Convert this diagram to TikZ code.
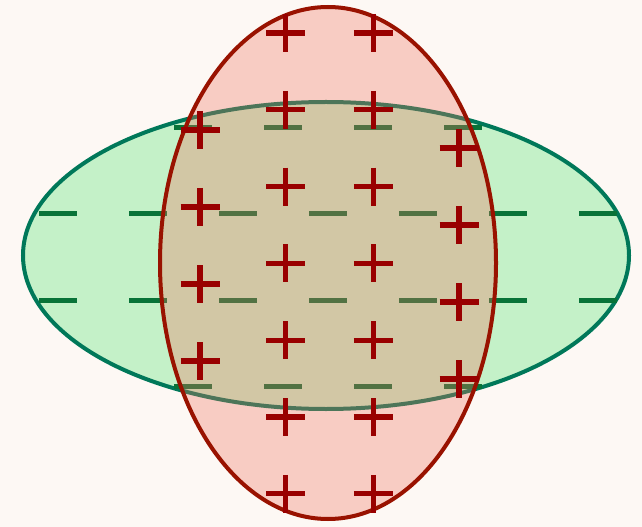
\documentclass[tikz,border=0pt]{standalone}
\usepackage{tikz}
\def\ovaledge{3}
\def\signedge{3.9}
\definecolor{paper}{rgb}{0.992,0.973,0.957}
\definecolor{greenfill}{rgb}{0.77,0.945,0.785}
\definecolor{greenline}{rgb}{0,0.47,0.35}
\definecolor{minusgreen}{rgb}{0.03,0.45,0.22}
\definecolor{redfill}{rgb}{0.94,0.44,0.36}
\definecolor{redline}{rgb}{0.6,0.07,0}
\definecolor{plusred}{rgb}{0.6,0,0}
\newcommand{\plusat}[2]{\draw [line width=\signedge, color=plusred] (#1-19.5,#2) -- (#1+19.5,#2) (#1,#2-19) -- (#1,#2+19);}
\newcommand{\minusat}[2]{\draw [line width=\signedge, color=minusgreen] (#1-19,#2) -- (#1+19,#2);}
\begin{document}
\begin{tikzpicture}[x = 0.75pt, y = -0.75pt]

            \fill [paper] (0,0) rectangle (642,527);
            \useasboundingbox (0,0) rectangle (642,527);

            \node (gc) at (326,255.5){};
            \node (rc) at (328,263){};

            % negative region
            \draw [line width=\ovaledge, color=greenline, fill=greenfill] (gc.center) ellipse [x radius=303, y radius=153.5];

            \minusat{193}{127.3} \minusat{283}{127.3} \minusat{373}{127.3} \minusat{463}{127.3}
            \minusat{58}{213.5} \minusat{148}{213.5} \minusat{238}{213.5} \minusat{328}{213.5}
            \minusat{418}{213.5} \minusat{508}{213.5} \minusat{598}{213.5}
            \minusat{58}{300.5} \minusat{148}{300.5} \minusat{238}{300.5} \minusat{328}{300.5}
            \minusat{418}{300.5} \minusat{508}{300.5} \minusat{598}{300.5}
            \minusat{193}{386.3} \minusat{283}{386.3} \minusat{373}{386.3} \minusat{463}{386.3}

            % positive region
            \fill [redfill, fill opacity=0.32] (rc.center) ellipse [x radius=168, y radius=256];
            \draw [line width=\ovaledge, color=redline] (rc.center) ellipse [x radius=168, y radius=256];

            \plusat{285.5}{33} \plusat{285.5}{109.8} \plusat{285.5}{186.6} \plusat{285.5}{263.4}
            \plusat{285.5}{340.2} \plusat{285.5}{417} \plusat{285.5}{493.8}
            \plusat{373.3}{33} \plusat{373.3}{109.8} \plusat{373.3}{186.6} \plusat{373.3}{263.4}
            \plusat{373.3}{340.2} \plusat{373.3}{417} \plusat{373.3}{493.8}
            \plusat{200}{130} \plusat{200}{207} \plusat{200}{284} \plusat{200}{361}
            \plusat{459}{148} \plusat{459}{225} \plusat{459}{302} \plusat{459}{379}

        \end{tikzpicture}
\end{document}
